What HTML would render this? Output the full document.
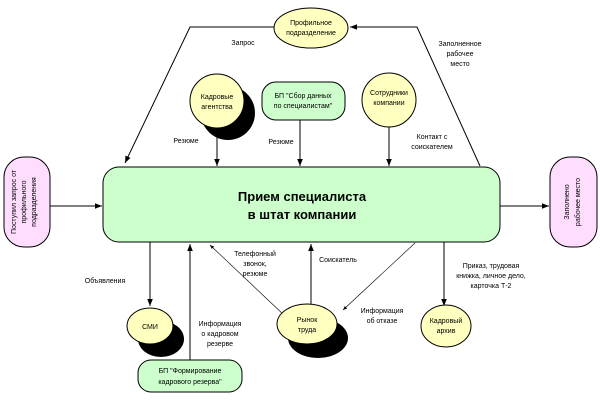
<!DOCTYPE html>
<html><head><meta charset="utf-8"><style>
html,body{margin:0;padding:0;background:#fff;}
svg{display:block;}
text{font-family:"Liberation Sans","DejaVu Sans",sans-serif;font-size:7px;fill:#000;}
</style></head><body>
<svg width="600" height="406" viewBox="0 0 600 406" xmlns="http://www.w3.org/2000/svg">
<defs>
<marker id="a" viewBox="0 0 10 10" refX="10" refY="5" markerWidth="7" markerHeight="7" orient="auto"><path d="M0,1 L10,5 L0,9 z" fill="#000"/></marker>
</defs>
<g stroke="#000" stroke-width="1" fill="none">
<!-- top loop -->
<polyline points="274,27 190,27 125,163" marker-end="url(#a)"/>
<polyline points="480,166 417,27 350,27" marker-end="url(#a)"/>
<line x1="217" y1="128" x2="217" y2="166" marker-end="url(#a)"/>
<line x1="300" y1="120" x2="300" y2="166" marker-end="url(#a)"/>
<line x1="389" y1="122" x2="389" y2="166" marker-end="url(#a)"/>
<line x1="50" y1="206" x2="102" y2="206" marker-end="url(#a)"/>
<line x1="500" y1="206" x2="549" y2="206" marker-end="url(#a)"/>
<line x1="150" y1="242" x2="150" y2="306" marker-end="url(#a)"/>
<line x1="190" y1="362" x2="190" y2="244" marker-end="url(#a)"/>
<line x1="285" y1="316" x2="210" y2="245" stroke-width="0.6" marker-end="url(#a)"/>
<line x1="311" y1="305" x2="311" y2="244" marker-end="url(#a)"/>
<line x1="415" y1="243" x2="343" y2="310" stroke-width="0.6" marker-end="url(#a)"/>
<line x1="444" y1="242" x2="444" y2="306" marker-end="url(#a)"/>
</g>
<!-- main box -->
<rect x="103" y="167" width="397" height="75" rx="16" fill="#ccffcc" stroke="#000"/>
<text x="302" y="201" text-anchor="middle" style="font-size:13px;font-weight:bold">Прием специалиста</text>
<text x="302" y="219" text-anchor="middle" style="font-size:13px;font-weight:bold">в штат компании</text>
<!-- pinks -->
<rect x="4" y="157" width="46" height="90" rx="20" fill="#ffddff" stroke="#000"/>
<text transform="translate(16,202) rotate(-90)" text-anchor="middle">Поступил запрос от</text>
<text transform="translate(26,202) rotate(-90)" text-anchor="middle">профильного</text>
<text transform="translate(36,202) rotate(-90)" text-anchor="middle">подразделения</text>
<rect x="550" y="157" width="47" height="90" rx="20" fill="#ffddff" stroke="#000"/>
<text transform="translate(569,202) rotate(-90)" text-anchor="middle">Заполнено</text>
<text transform="translate(580,202) rotate(-90)" text-anchor="middle">рабочее место</text>
<!-- profile -->
<ellipse cx="311" cy="28" rx="37" ry="20" fill="#ffffc0" stroke="#000"/>
<text x="311" y="25" text-anchor="middle">Профильное</text>
<text x="311" y="35" text-anchor="middle">подразделение</text>
<!-- kadr agencies -->
<ellipse cx="228" cy="113" rx="27" ry="27" fill="#000"/>
<ellipse cx="217" cy="101" rx="27" ry="27" fill="#ffffc0" stroke="#000"/>
<text x="217" y="99" text-anchor="middle">Кадровые</text>
<text x="217" y="109" text-anchor="middle">агентства</text>
<rect x="262" y="82" width="83" height="38" rx="14" fill="#ccffcc" stroke="#000"/>
<text x="303" y="98" text-anchor="middle">БП "Сбор данных</text>
<text x="303" y="108" text-anchor="middle">по специалистам"</text>
<ellipse cx="389" cy="100" rx="27" ry="27" fill="#ffffc0" stroke="#000"/>
<text x="389" y="95" text-anchor="middle">Сотрудники</text>
<text x="389" y="105" text-anchor="middle">компании</text>
<!-- bottom -->
<ellipse cx="161" cy="339" rx="23" ry="18" fill="#000"/>
<ellipse cx="150" cy="326" rx="23" ry="18" fill="#ffffc0" stroke="#000"/>
<text x="150" y="329" text-anchor="middle">СМИ</text>
<rect x="138" y="360" width="104" height="32" rx="13" fill="#ccffcc" stroke="#000"/>
<text x="190" y="373" text-anchor="middle">БП "Формирование</text>
<text x="190" y="384" text-anchor="middle">кадрового резерва"</text>
<ellipse cx="318" cy="338" rx="30" ry="20" fill="#000"/>
<ellipse cx="307" cy="324" rx="30" ry="20" fill="#ffffc0" stroke="#000"/>
<text x="307" y="322" text-anchor="middle">Рынок</text>
<text x="307" y="332" text-anchor="middle">труда</text>
<ellipse cx="446" cy="326" rx="25" ry="21" fill="#ffffc0" stroke="#000"/>
<text x="446" y="323" text-anchor="middle">Кадровый</text>
<text x="446" y="333" text-anchor="middle">архив</text>
<!-- labels -->
<text x="243" y="45" text-anchor="middle">Запрос</text>
<text x="460" y="46" text-anchor="middle">Заполненное</text>
<text x="460" y="56" text-anchor="middle">рабочее</text>
<text x="460" y="66" text-anchor="middle">место</text>
<text x="186" y="143" text-anchor="middle">Резюме</text>
<text x="281" y="144" text-anchor="middle">Резюме</text>
<text x="432" y="139" text-anchor="middle">Контакт с</text>
<text x="432" y="149" text-anchor="middle">соискателем</text>
<text x="105" y="283" text-anchor="middle">Объявления</text>
<text x="220" y="326" text-anchor="middle">Информация</text>
<text x="220" y="336" text-anchor="middle">о кадровом</text>
<text x="220" y="346" text-anchor="middle">резерве</text>
<text x="255" y="256" text-anchor="middle">Телефонный</text>
<text x="255" y="266" text-anchor="middle">звонок,</text>
<text x="255" y="276" text-anchor="middle">резюме</text>
<text x="338" y="262" text-anchor="middle">Соискатель</text>
<text x="491" y="268" text-anchor="middle">Приказ, трудовая</text>
<text x="491" y="278" text-anchor="middle">книжка, личное дело,</text>
<text x="491" y="288" text-anchor="middle">карточка Т-2</text>
<text x="382" y="313" text-anchor="middle">Информация</text>
<text x="382" y="323" text-anchor="middle">об отказе</text>
</svg>
</body></html>
